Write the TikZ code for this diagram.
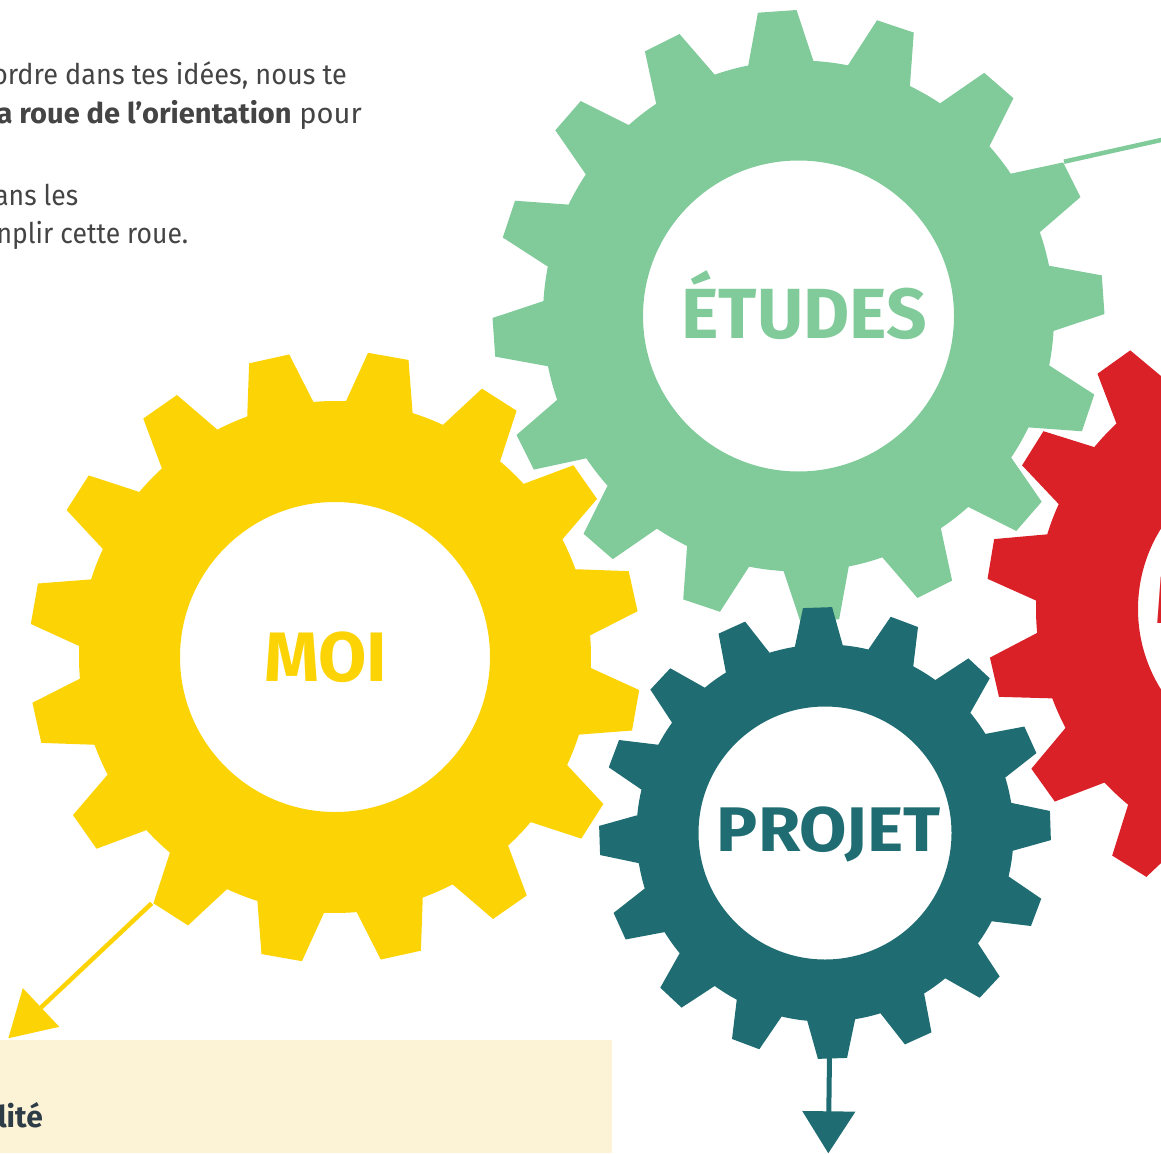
\documentclass[tikz,border=0pt]{standalone}
\usepackage{fontspec}
\setmainfont{Fira Sans}
\usetikzlibrary{arrows.meta}
\definecolor{gyellow}{HTML}{FCD305}
\definecolor{ggreen}{HTML}{81CA9A}
\definecolor{gteal}{HTML}{1F6D72}
\definecolor{gred}{HTML}{DA2128}
\definecolor{cream}{HTML}{FCF3D6}
\definecolor{bodytext}{HTML}{444444}
\definecolor{slate}{HTML}{2E3C47}
\pgfkeys{/gear/.cd,
  cx/.store in=\gcx, cy/.store in=\gcy, n/.store in=\gn, off/.store in=\goff,
  rt/.store in=\grt, rr/.store in=\grr, ht/.store in=\ght, hr/.store in=\ghr,
  hole/.store in=\ghole}
\newcommand\drawgear[2]{%
  \pgfkeys{/gear/.cd,#2}%
  \pgfmathsetmacro\gp{360/\gn}%
  \pgfmathtruncatemacro\gnm{\gn-1}%
  \begin{scope}[shift={(\gcx,\gcy)},yscale=-1]
    \fill[#1,even odd rule] (\goff-\ghr:\grr)
      \foreach \k in {0,...,\gnm}{
        -- (\goff+\k*\gp-\ght:\grt) -- (\goff+\k*\gp+\ght:\grt) -- (\goff+\k*\gp+\ghr:\grr)
        arc[start angle=\goff+\k*\gp+\ghr, end angle=\goff+\k*\gp+\gp-\ghr, radius=\grr]
      } -- cycle (0,0) circle[radius=\ghole];
  \end{scope}}
\tikzset{
  gearlabel/.style={inner sep=0pt, anchor=base, font=\bfseries\fontsize{#1}{#1}\selectfont},
  bodyline/.style={inner sep=0pt, anchor=base east, text=bodytext, font=\fontsize{28.5}{34}\selectfont},
}
\begin{document}
\begin{tikzpicture}[x=1pt,y=-1pt]
\useasboundingbox (0,0) rectangle (1161,1153);
\clip (0,0) rectangle (1161,1153);

% paragraph fragments
\node[bodyline, xscale=0.95] (l1) at (347,85) {ordre dans tes idées, nous te};
\node[bodyline, xscale=1.02] (l2) at (362,123.3) {\textbf{a roue de l’orientation} pour};
\node[bodyline, xscale=0.93] (l4) at (78.3,205) {ans les};
\node[bodyline, xscale=0.93] (l5) at (188.3,243.3) {nplir cette roue.};

% bottom box
\fill[cream] (0,1040) rectangle (612,1153);
\node[inner sep=0pt, anchor=base east, text=slate, font=\bfseries\fontsize{30}{34}\selectfont] (lite) at (43,1127) {lité};

% connectors
\coordinate (moiout) at (151.7,903.3);
\coordinate (moitip) at (8.3,1038.3);
\coordinate (etout) at (1064,161.7);
\coordinate (etend) at (1200,131.3);
\coordinate (prout) at (829.5,1056);
\coordinate (prtip) at (828.3,1153.3);
\draw[gyellow, line width=4.5pt, -{Triangle[length=45pt,width=52pt]}] (moiout) -- (moitip);
\draw[ggreen, line width=4.5pt] (etout) -- (etend);
\draw[gteal, line width=5pt, -{Triangle[length=42pt,width=52pt]}] (prout) -- (prtip);

% gears
\drawgear{gred}{cx=1290,cy=609,n=16,off=125.5,rt=304,rr=254,ht=3.8,hr=7.6,hole=152}
\drawgear{ggreen}{cx=798.5,cy=316,n=16,off=94,rt=306,rr=255.5,ht=3.63,hr=7.35,hole=155.5}
\drawgear{gyellow}{cx=335,cy=657,n=16,off=102.45,rt=306,rr=256,ht=3.85,hr=7.6,hole=155}
\drawgear{gteal}{cx=825,cy=833,n=16,off=91.9,rt=226,rr=188.6,ht=3.7,hr=7.3,hole=126.5}

% gear labels
\node[gearlabel=71, text=ggreen] (etudes) at (804,338) {ÉTUDES};
\node[gearlabel=70, text=gyellow] (moi) at (325.7,681.7) {MOI};
\node[gearlabel=63, text=gteal, xscale=1.09] (projet) at (828.8,851.7) {PROJET};
\node[inner sep=0pt, anchor=base west, text=gred, font=\bfseries\fontsize{67}{67}\selectfont] (metier) at (1155,623) {MÉTIERS};
\end{tikzpicture}
\end{document}
